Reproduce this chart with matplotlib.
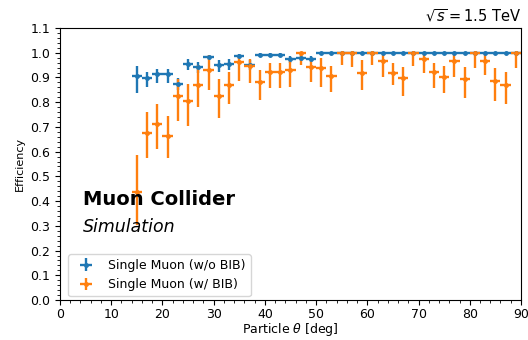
import matplotlib
matplotlib.use("Agg")
import matplotlib.pyplot as plt
from matplotlib.ticker import AutoMinorLocator, MultipleLocator

theta = [15, 17, 19, 21, 23, 25, 27, 29, 31, 33, 35, 37, 39, 41, 43, 45, 47, 49,
         51, 53, 55, 57, 59, 61, 63, 65, 67, 69, 71, 73, 75, 77, 79, 81, 83, 85, 87, 89]

eff_nobib = [0.906, 0.898, 0.914, 0.914, 0.873, 0.954, 0.943, 0.981, 0.950, 0.954,
             0.987, 0.950, 0.991, 0.991, 0.991, 0.975, 0.980, 0.975,
             1.0, 1.0, 1.0, 1.0, 1.0, 1.0, 1.0, 1.0, 1.0, 1.0, 1.0, 1.0,
             1.0, 1.0, 1.0, 1.0, 1.0, 1.0, 1.0, 1.0]
lo_nobib = [0.07, 0.035, 0.035, 0.035, 0.025, 0.025, 0.025, 0.012, 0.027, 0.025,
            0.012, 0.02, 0.01, 0.01, 0.01, 0.015, 0.012, 0.012,
            0.005, 0.005, 0.005, 0.005, 0.005, 0.005, 0.005, 0.005, 0.005, 0.005,
            0.005, 0.005, 0.005, 0.005, 0.005, 0.005, 0.005, 0.005, 0.005, 0.005]
hi_nobib = [0.04, 0.025, 0.02, 0.02, 0.025, 0.02, 0.02, 0.01, 0.02, 0.02,
            0.008, 0.02, 0.006, 0.006, 0.006, 0.01, 0.01, 0.01,
            0, 0, 0, 0, 0, 0, 0, 0, 0, 0, 0, 0, 0, 0, 0, 0, 0, 0, 0, 0]

eff_bib = [0.435, 0.674, 0.712, 0.663, 0.825, 0.805, 0.869, 0.930, 0.827, 0.869,
           0.964, 0.946, 0.883, 0.923, 0.923, 0.930, 1.0, 0.943,
           0.937, 0.906, 1.0, 1.0, 0.919, 1.0, 0.968, 0.917, 0.896, 1.0,
           0.973, 0.923, 0.903, 0.968, 0.892, 1.0, 0.968, 0.887, 0.869, 1.0]
lo_bib = [0.13, 0.10, 0.10, 0.09, 0.10, 0.10, 0.09, 0.08, 0.09, 0.075,
          0.08, 0.07, 0.075, 0.067, 0.067, 0.07, 0.05, 0.06,
          0.075, 0.064, 0.05, 0.059, 0.07, 0.05, 0.068, 0.048, 0.071, 0.054,
          0.054, 0.067, 0.067, 0.068, 0.077, 0.063, 0.06, 0.081, 0.076, 0.063]
hi_bib = [0.15, 0.085, 0.08, 0.08, 0.07, 0.07, 0.08, 0.06, 0.065, 0.055,
          0.025, 0.03, 0.047, 0.037, 0.037, 0.045, 0.0, 0.03,
          0.04, 0.04, 0.0, 0.0, 0.05, 0.0, 0.03, 0.04, 0.047, 0.0,
          0.025, 0.037, 0.043, 0.03, 0.049, 0.0, 0.03, 0.05, 0.054, 0.0]

bin_half = [1.0] * len(theta)

fig = plt.figure(figsize=(5.28, 3.40), dpi=100)
ax = fig.add_axes([0.1136, 0.1176, 0.8731, 0.8000])

ax.errorbar(theta, eff_nobib, xerr=bin_half, yerr=[lo_nobib, hi_nobib],
            fmt='.', color='#1f77b4', markersize=5, elinewidth=1.7,
            label='Single Muon (w/o BIB)')
ax.errorbar(theta, eff_bib, xerr=bin_half, yerr=[lo_bib, hi_bib],
            fmt='.', color='#ff7f0e', markersize=5, elinewidth=1.7,
            label='Single Muon (w/ BIB)')

ax.set_xlim(0, 90)
ax.set_ylim(0.0, 1.1)
ax.xaxis.set_major_locator(MultipleLocator(10))
ax.yaxis.set_major_locator(MultipleLocator(0.1))
ax.xaxis.set_minor_locator(AutoMinorLocator(5))
ax.yaxis.set_minor_locator(AutoMinorLocator(5))
ax.tick_params(axis='both', which='major', labelsize=9)
ax.tick_params(axis='x', which='major', pad=2.5)

ax.set_xlabel(r'Particle $\theta$ [deg]', fontsize=9, labelpad=0)
ax.set_ylabel('Efficiency', fontsize=8, labelpad=4)
ax.set_title(r'$\sqrt{s} = 1.5$ TeV', loc='right', fontsize=10.5, pad=5)

ax.text(0.05, 0.371, 'Muon Collider', transform=ax.transAxes, fontsize=14,
        fontweight='bold', va='center', ha='left')
ax.text(0.05, 0.268, 'Simulation', transform=ax.transAxes, fontsize=12.5,
        fontstyle='italic', va='center', ha='left')

ax.legend(loc='lower left', fontsize=9, frameon=True, borderaxespad=0.3,
          bbox_to_anchor=(0.01, 0.0))

fig.savefig('out.png', dpi=100)
